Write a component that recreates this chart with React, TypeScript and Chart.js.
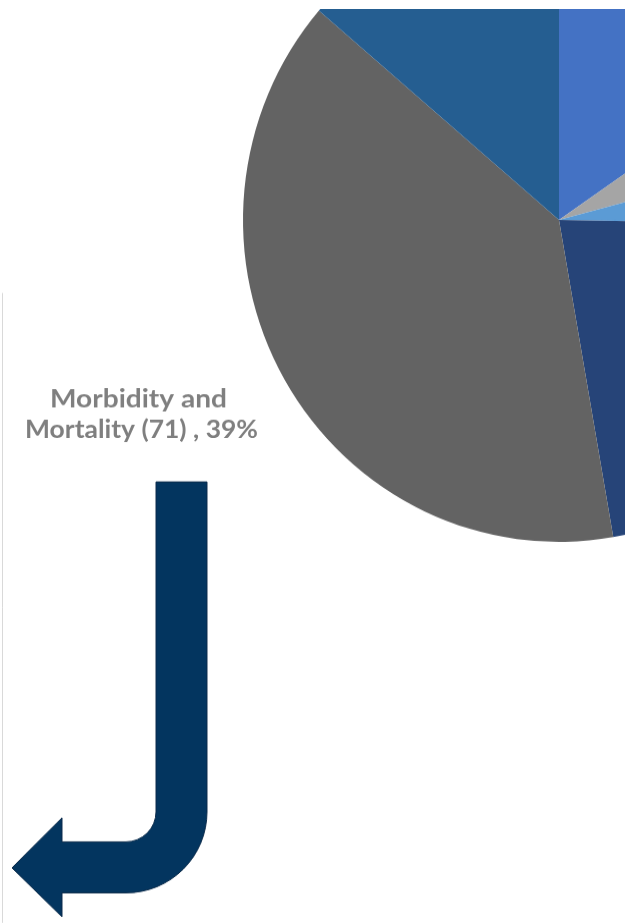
import React, { useEffect, useRef } from "react";
import { Chart, registerables } from "chart.js";

Chart.register(...registerables);

const categories = [
  "Category A",
  "Category B",
  "Category C",
  "Category D",
  "Morbidity and Mortality",
  "Category F",
];
const counts = [28, 10, 8, 40, 71, 25];
const colors = ["#4472C4", "#A5A5A5", "#5B9BD5", "#264478", "#636363", "#255E91"];
const labelledIndex = 4;
const labelLines = ["Morbidity and", "Mortality"];

const R = 316; // horizontal pie radius (px)
const K = 322 / 316; // vertical stretch of the original picture
const CX = 559;
const CY = 220;
const CANVAS_W = CX + R;
const CANVAS_H = 1010;
const TOP_PAGE = CY - R * K; // page y of the canvas top
const OFFSET_Y = -TOP_PAGE; // drawing y = page y + OFFSET_Y (after scale)

const decorPlugin = {
  id: "decor",
  afterDraw(chart: any) {
    const ctx = chart.ctx as CanvasRenderingContext2D;
    const Y = (y: number) => y + OFFSET_Y;
    ctx.save();
    ctx.scale(1, 1 / K);
    // thin vertical frame line
    ctx.strokeStyle = "#D9D9D9";
    ctx.lineWidth = 1;
    ctx.beginPath();
    ctx.moveTo(2.5, Y(293));
    ctx.lineTo(2.5, Y(923));
    ctx.stroke();

    // label
    const total = counts.reduce((a, b) => a + b, 0);
    const v = counts[labelledIndex];
    const pct = Math.round((v / total) * 100);
    const line1 = labelLines[0];
    const line2 = `${labelLines[1]} (${v}) , ${pct}%`;
    ctx.fillStyle = "#7F7F7F";
    ctx.font = "bold 26px Lato";
    ctx.textAlign = "center";
    ctx.textBaseline = "alphabetic";
    const drawLine = (t: string, cx: number, y: number, width: number) => {
      const w = ctx.measureText(t).width;
      ctx.save();
      ctx.translate(cx, Y(y));
      ctx.scale(width / w, 1);
      ctx.fillText(t, 0, 0);
      ctx.restore();
    };
    drawLine(line1, 138.5, 407, 177);
    drawLine(line2, 141.5, 438, 233);

    // bent arrow
    ctx.beginPath();
    ctx.moveTo(156, Y(482));
    ctx.lineTo(207, Y(482));
    ctx.lineTo(207, Y(812));
    ctx.arc(126, Y(812), 81, 0, Math.PI / 2, false);
    ctx.lineTo(62, Y(893));
    ctx.lineTo(62, Y(917));
    ctx.lineTo(12, Y(868));
    ctx.lineTo(62, Y(818));
    ctx.lineTo(62, Y(842));
    ctx.lineTo(126, Y(842));
    ctx.arc(126, Y(812), 30, Math.PI / 2, 0, true);
    ctx.lineTo(156, Y(482));
    ctx.closePath();
    ctx.fillStyle = "#03355F";
    ctx.fill();
    ctx.strokeStyle = "#0C2C4B";
    ctx.lineWidth = 1;
    ctx.stroke();
    ctx.restore();
  },
};

export default function App() {
  const ref = useRef<HTMLCanvasElement | null>(null);
  useEffect(() => {
    if (!ref.current) return;
    const chart = new Chart(ref.current, {
      type: "pie",
      data: {
        labels: categories,
        datasets: [
          {
            data: counts,
            backgroundColor: colors,
            borderWidth: 0,
          },
        ],
      },
      options: {
        responsive: false,
        animation: false,
        devicePixelRatio: 1,
        layout: { padding: { left: CX - R, top: 0, right: 0, bottom: CANVAS_H - 2 * R } },
        plugins: {
          legend: { display: false },
          tooltip: { enabled: false },
        },
      },
      plugins: [decorPlugin],
    });
    return () => chart.destroy();
  }, []);

  return (
    <div
      style={{
        position: "absolute",
        left: 0,
        top: 0,
        width: 625,
        height: 923,
        overflow: "hidden",
        background: "#fff",
      }}
    >
      <div
        style={{
          position: "absolute",
          left: 0,
          top: 9,
          width: 625,
          height: 914,
          overflow: "hidden",
        }}
      >
        <canvas
          ref={ref}
          width={CANVAS_W}
          height={CANVAS_H}
          style={{
            position: "absolute",
            left: 0,
            top: TOP_PAGE - 9,
            width: CANVAS_W,
            height: CANVAS_H * K,
          }}
        />
      </div>
    </div>
  );
}
